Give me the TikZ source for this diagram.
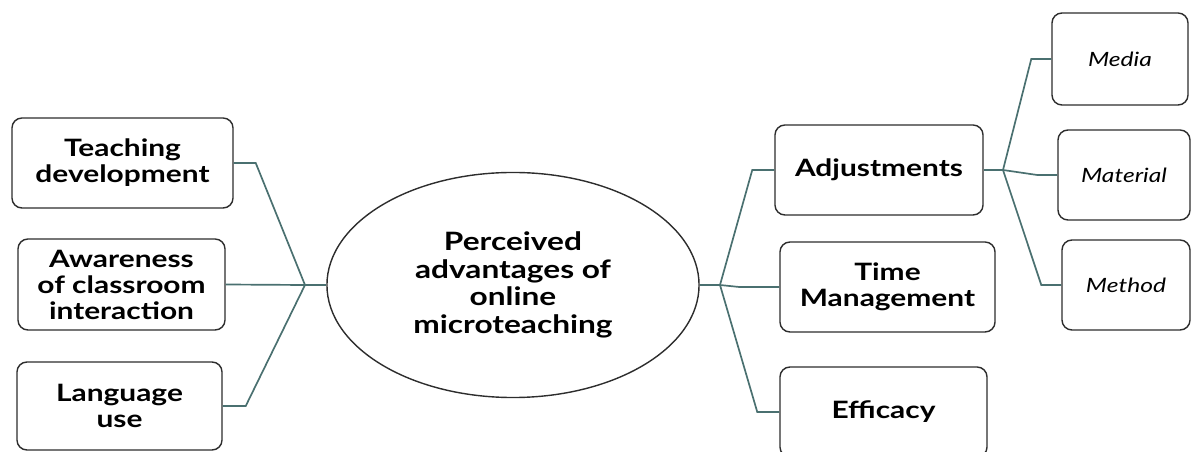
\documentclass[tikz,border=0pt]{standalone}
\usepackage{fontspec}
\setmainfont{Lato}[FakeStretch=1.25]
\usetikzlibrary{shapes.geometric}
\definecolor{MTteal}{RGB}{74,112,112}
\definecolor{MTgray}{RGB}{45,45,45}

\begin{document}
\begin{tikzpicture}[x=0.025cm, y=-0.025cm,
	topic/.style={draw=MTgray, line width=1pt, rounded corners=0.25cm, align=center, inner sep=0, font=\bfseries\fontsize{17}{18.5}\selectfont},
	subtopic/.style={topic, font=\itshape\fontsize{14}{16}\selectfont},
	link/.style={MTteal, line width=1.2pt}
	]
	\useasboundingbox (0,0) rectangle (1192,452);
	
	\node (center) at (513,285) [ellipse, draw=MTgray, line width=1pt, minimum width=9.3cm, minimum height=5.625cm, align=center, font=\bfseries\fontsize{18}{19.5}\selectfont] {Perceived\\advantages of\\online\\microteaching};
	
	% left side
	\node (teach) at (122.5,163) [topic, minimum width=5.525cm, minimum height=2.25cm] {Teaching\\development};
	\node (aware) at (121.5,284.5) [topic, minimum width=5.175cm, minimum height=2.275cm] {Awareness\\of classroom\\interaction};
	\node (lang) at (119.5,406) [topic, minimum width=5.125cm, minimum height=2.2cm] {Language\\use};
	\coordinate (jl) at (305,285);
	
	\draw [link] (teach.east) -- ++(22,0) -- (jl);
	\draw [link] (aware.east) -- (jl);
	\draw [link] (lang.east) -- ++(23,0) -- (jl);
	\draw [link] (jl) -- (center.west);
	
	% right side
	\node (adjust) at (879,170) [topic, minimum width=5.2cm, minimum height=2.25cm] {Adjustments};
	\node (time) at (887.5,287) [topic, minimum width=5.375cm, minimum height=2.25cm] {Time\\Management};
	\node (effic) at (883.5,412) [topic, minimum width=5.175cm, minimum height=2.25cm] {Efficacy};
	\coordinate (jr) at (720,285);
	
	\draw [link] (center.east) -- (jr);
	\draw [link] (jr) -- ([xshift=-0.55cm]adjust.west) -- (adjust.west);
	\draw [link] (jr) -- ([xshift=-1cm]time.west) -- (time.west);
	\draw [link] (jr) -- ([xshift=-0.55cm]effic.west) -- (effic.west);
	
	% adjustments
	\node (media) at (1120,59) [subtopic, minimum width=3.4cm, minimum height=2.3cm] {Media};
	\node (mater) at (1124,175) [subtopic, minimum width=3.3cm, minimum height=2.25cm] {Material};
	\node (method) at (1126,285) [subtopic, minimum width=3.2cm, minimum height=2.25cm] {Method};
	\coordinate (ja) at (1003,170);
	
	\draw [link] (adjust.east) -- (ja);
	\draw [link] (ja) -- ([xshift=-0.5cm]media.west) -- (media.west);
	\draw [link] (ja) -- ([xshift=-0.5cm]mater.west) -- (mater.west);
	\draw [link] (ja) -- ([xshift=-0.5cm]method.west) -- (method.west);
\end{tikzpicture}
\end{document}
